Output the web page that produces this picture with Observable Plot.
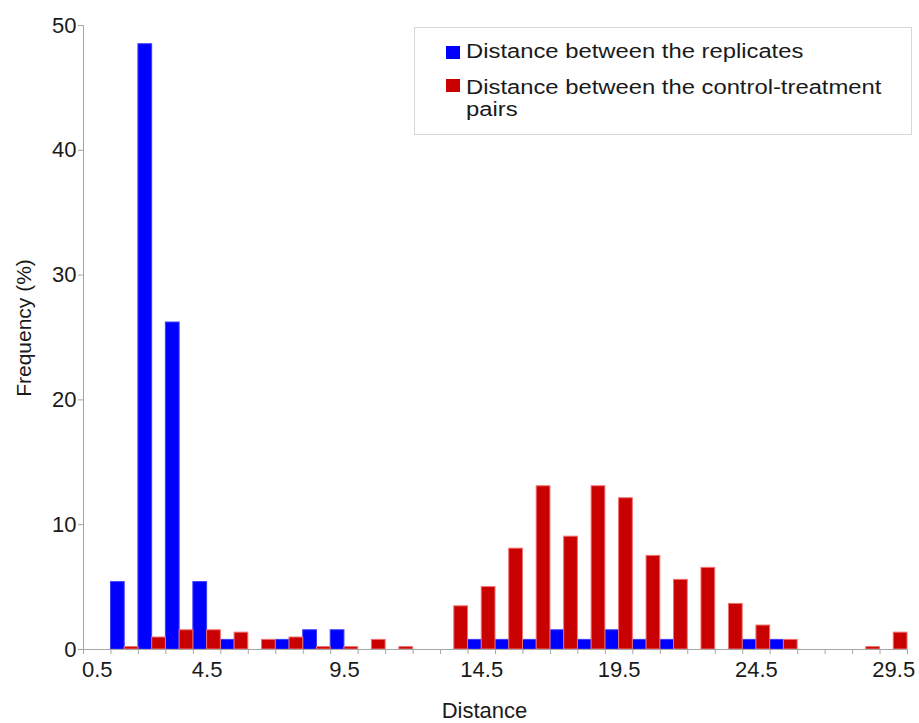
<!DOCTYPE html>
<html>
<head>
<meta charset="utf-8">
<script src="https://cdn.jsdelivr.net/npm/d3@7"></script>
<script src="https://cdn.jsdelivr.net/npm/@observablehq/plot@0.6"></script>
<style>
  body { margin: 0; background: #fff; }
  #wrap { position: relative; width: 919px; height: 723px; font-family: "Liberation Sans", Arial, sans-serif; }
  #legend { position: absolute; left: 414px; top: 27px; width: 498px; height: 108px; border: 1px solid #d6d6d6; box-sizing: border-box; background: #fff; }
  .sw { position: absolute; width: 14px; height: 13px; left: 31px; }
  .lt { position: absolute; left: 51px; font-size: 20px; line-height: 20px; white-space: nowrap; color: #1a1a1a; transform: scaleX(1.19); transform-origin: left center; }
</style>
</head>
<body>
<div id="wrap"></div>
<script>
// Category centres (distance bins) as labelled on the x axis
const categories = [0.5, 1.5, 2.5, 3.5, 4.5, 5.5, 6.5, 7.5, 8.5, 9.5,
                    10.5, 11.5, 12.5, 13.5, 14.5, 15.5, 16.5, 17.5, 18.5, 19.5,
                    20.5, 21.5, 22.5, 23.5, 24.5, 25.5, 26.5, 27.5, 28.5, 29.5];
// Frequency (%) — distance between the replicates (blue)
const replicates = [0, 5.4, 48.5, 26.2, 5.4, 0.77, 0, 0.77, 1.54, 1.54,
                    0, 0, 0, 0, 0.77, 0.77, 0.77, 1.54, 0.77, 1.54,
                    0.77, 0.77, 0, 0, 0.77, 0.77, 0, 0, 0, 0];
// Frequency (%) — distance between the control-treatment pairs (red)
const controlTreatment = [0, 0.19, 0.96, 1.54, 1.54, 1.35, 0.77, 0.96, 0.19, 0.19,
                          0.77, 0.19, 0, 3.46, 5.0, 8.08, 13.08, 9.04, 13.08, 12.12,
                          7.5, 5.58, 6.54, 3.65, 1.92, 0.77, 0, 0, 0.19, 1.35];
const xTickLabels = ["0.5", "4.5", "9.5", "14.5", "19.5", "24.5", "29.5"];
const yTicks = [0, 10, 20, 30, 40, 50];
const seriesNames = ["Distance between the replicates", "Distance between the control-treatment pairs"];

const repData = categories.map((c, i) => ({cat: c, value: replicates[i]})).filter(d => d.value > 0);
const ctData = categories.map((c, i) => ({cat: c, value: controlTreatment[i]})).filter(d => d.value > 0);
const boundaries = d3.range(0, categories.length + 1);
const xTickValues = xTickLabels.map(Number);

const gray = "#a6a6a6";
const chart = Plot.plot({
  width: 919,
  height: 723,
  marginLeft: 83,
  marginRight: 12,
  marginTop: 25,
  marginBottom: 74,
  style: {fontFamily: "Liberation Sans, Arial, sans-serif", fontSize: "22px", color: "#1a1a1a", background: "#fff"},
  x: {domain: [0, categories.length]},
  y: {domain: [0, 50]},
  marks: [
    Plot.rectY(repData, {x1: d => d.cat - 0.5, x2: d => d.cat, y1: 0, y2: "value", fill: "#0000ff", stroke: "#3b3bff", strokeWidth: 1}),
    Plot.rectY(ctData, {x1: d => d.cat, x2: d => d.cat + 0.5, y1: 0, y2: "value", fill: "#c80000", stroke: "#f07070", strokeWidth: 1}),
    Plot.ruleX([0], {stroke: gray}),
    Plot.ruleY([0], {stroke: gray}),
    Plot.axisY({ticks: yTicks, tickSize: 5, tickPadding: 2, stroke: gray, fill: "#1a1a1a", label: null}),
    Plot.axisX({ticks: boundaries, tickSize: 5, tickFormat: () => "", stroke: gray, label: null}),
    Plot.axisX({ticks: xTickValues, tickSize: 0, tickPadding: 12, tickFormat: d => xTickLabels[xTickValues.indexOf(d)], fill: "#1a1a1a", label: null}),
    Plot.text(["Distance"], {text: d => d, frameAnchor: "bottom", dx: -11, dy: 68, lineAnchor: "bottom", fontSize: 22, fill: "#1a1a1a"}),
    Plot.text(["Frequency (%)"], {text: d => d, frameAnchor: "left", rotate: -90, dx: -59, dy: -9.5, lineAnchor: "middle", textAnchor: "middle", fontSize: 21, fill: "#1a1a1a"})
  ]
});
const wrap = document.getElementById("wrap");
wrap.appendChild(chart);

const legend = document.createElement("div");
legend.id = "legend";
legend.innerHTML = `
  <div class="sw" style="top:18px;background:#0000ff"></div>
  <div class="lt" style="top:13px">${seriesNames[0]}</div>
  <div class="sw" style="top:51px;background:#c80000"></div>
  <div class="lt" style="top:49px">Distance between the control-treatment</div>
  <div class="lt" style="top:71px">pairs</div>`;
wrap.appendChild(legend);
</script>
</body>
</html>
